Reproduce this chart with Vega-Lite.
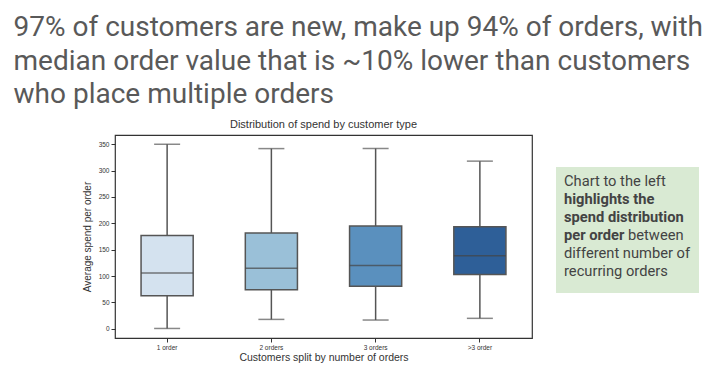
{
  "$schema": "https://vega.github.io/schema/vega-lite/v6.json",
  "background": "white",
  "padding": {"left": 13, "top": 14, "right": 5, "bottom": 4},
  "title": {
    "text": ["97% of customers are new, make up 94% of orders, with", "median order value that is ~10% lower than customers", "who place multiple orders"],
    "anchor": "start",
    "frame": "bounds",
    "font": "Roboto",
    "fontSize": 28,
    "fontWeight": "normal",
    "color": "#595959",
    "lineHeight": 33.5,
    "offset": 9,
    "dx": -68
  },
  "spacing": 23,
  "config": {
    "font": "Liberation Sans",
    "view": {"stroke": null},
    "axisY": {"titleFontSize": 10, "titleFontWeight": "normal", "titleColor": "#333333", "titlePadding": 6, "labelOverlap": false, "labelFontSize": 6.5, "labelColor": "#333333", "labelPadding": 2, "tickSize": 4, "tickColor": "#333333", "domain": false, "grid": false}
  },
  "hconcat": [
    {
      "width": 417,
      "height": 203,
      "view": {"stroke": "#333333", "strokeWidth": 1.2},
      "title": {"text": "Distribution of spend by customer type", "font": "Liberation Sans", "fontSize": 11, "fontWeight": "normal", "color": "#333333", "offset": 5},
      "data": {"values": [
        {"type": "1 order", "lower": 0.5, "q1": 62.7, "median": 105.7, "q3": 177, "upper": 350},
        {"type": "2 orders", "lower": 17.7, "q1": 74, "median": 114.6, "q3": 181.6, "upper": 341.8},
        {"type": "3 orders", "lower": 16.5, "q1": 80.4, "median": 120, "q3": 195, "upper": 342},
        {"type": ">3 order", "lower": 19.7, "q1": 103, "median": 138.5, "q3": 193.6, "upper": 318}
      ]},
      "encoding": {
        "x": {
          "field": "type", "type": "nominal", "sort": null,
          "scale": {"type": "band", "paddingInner": 0, "paddingOuter": 0, "domain": ["1 order", "2 orders", "3 orders", ">3 order"]},
          "axis": {"title": "Customers split by number of orders", "titleFontSize": 10.5, "titleFontWeight": "normal", "titleColor": "#333333", "titlePadding": 2, "labelAngle": 0, "labelFontSize": 6.5, "labelColor": "#333333", "labelPadding": 2, "tickSize": 4, "tickColor": "#333333", "domain": false, "grid": false}
        }
      },
      "layer": [
        {
          "mark": {"type": "rule", "color": "#555555", "strokeWidth": 1.5},
          "encoding": {
            "y": {"field": "lower", "type": "quantitative", "scale": {"domain": [-17.6, 367.6], "nice": false, "zero": false},
              "axis": {"title": "Average spend per order", "values": [0, 50, 100, 150, 200, 250, 300, 350]}},
            "y2": {"field": "upper"}
          }
        },
        {
          "mark": {"type": "tick", "orient": "horizontal", "color": "#555555", "thickness": 1.5, "size": 26},
          "encoding": {"y": {"field": "lower", "type": "quantitative", "axis": {"title": "Average spend per order", "values": [0, 50, 100, 150, 200, 250, 300, 350]}}}
        },
        {
          "mark": {"type": "tick", "orient": "horizontal", "color": "#555555", "thickness": 1.5, "size": 26},
          "encoding": {"y": {"field": "upper", "type": "quantitative", "axis": {"title": "Average spend per order", "values": [0, 50, 100, 150, 200, 250, 300, 350]}}}
        },
        {
          "mark": {"type": "bar", "width": {"band": 0.5}, "stroke": "#555555", "strokeWidth": 1.5},
          "encoding": {
            "y": {"field": "q1", "type": "quantitative", "axis": {"title": "Average spend per order", "values": [0, 50, 100, 150, 200, 250, 300, 350]}},
            "y2": {"field": "q3"},
            "fill": {"field": "type", "type": "nominal", "scale": {"domain": ["1 order", "2 orders", "3 orders", ">3 order"], "range": ["#d4e2ef", "#9ac0d8", "#5a90be", "#2e5f98"]}, "legend": null}
          }
        },
        {
          "mark": {"type": "tick", "orient": "horizontal", "color": "#444444", "thickness": 1.5, "size": 52},
          "encoding": {"y": {"field": "median", "type": "quantitative", "axis": {"title": "Average spend per order", "values": [0, 50, 100, 150, 200, 250, 300, 350]}}}
        }
      ]
    },
    {
      "spacing": 0,
      "vconcat": [
        {
          "width": 143,
          "height": 32,
          "data": {"values": [{"blank": ""}]},
          "mark": {"type": "text"},
          "encoding": {"text": {"field": "blank"}}
        },
        {
          "width": 143,
          "height": 126,
          "view": {"fill": "#d9ead3", "stroke": null},
          "data": {"values": [
            {"line": 1, "text": "Chart to the left", "weight": "normal", "part": 1},
            {"line": 2, "text": "highlights the", "weight": "bold", "part": 1},
            {"line": 3, "text": "spend distribution", "weight": "bold", "part": 1},
            {"line": 4, "text": "per order", "weight": "bold", "part": 1},
            {"line": 4, "text": "between", "weight": "normal", "part": 2},
            {"line": 5, "text": "different number of", "weight": "normal", "part": 1},
            {"line": 6, "text": "recurring orders", "weight": "normal", "part": 1}
          ]},
          "encoding": {
            "y": {"field": "line", "type": "ordinal", "scale": {"type": "point", "padding": 1}, "axis": null}
          },
          "layer": [
            {
              "transform": [{"filter": "datum.weight == 'normal' && datum.part == 1"}],
              "mark": {"type": "text", "align": "left", "baseline": "middle", "font": "Roboto", "fontSize": 14.7, "fontWeight": "normal", "color": "#434343", "x": 8, "dy": -3},
              "encoding": {"text": {"field": "text"}}
            },
            {
              "transform": [{"filter": "datum.weight == 'bold'"}],
              "mark": {"type": "text", "align": "left", "baseline": "middle", "font": "Roboto", "fontSize": 14.7, "fontWeight": "bold", "color": "#434343", "x": 8, "dy": -3},
              "encoding": {"text": {"field": "text"}}
            },
            {
              "transform": [{"filter": "datum.part == 2"}],
              "mark": {"type": "text", "align": "left", "baseline": "middle", "font": "Roboto", "fontSize": 14.7, "fontWeight": "normal", "color": "#434343", "x": 72, "dy": -3},
              "encoding": {"text": {"field": "text"}}
            }
          ]
        }
      ]
    }
  ]
}
